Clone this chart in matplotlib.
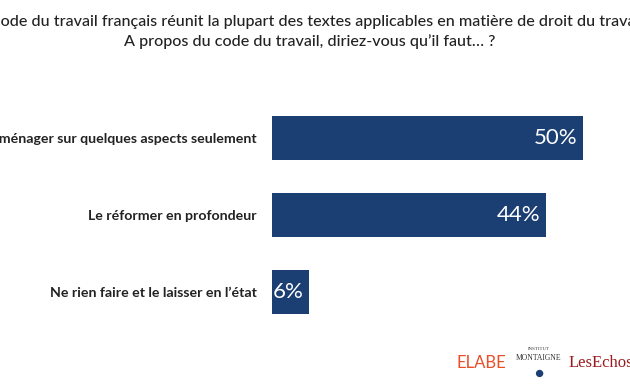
import matplotlib.pyplot as plt

categories = [
    "Aménager sur quelques aspects seulement",
    "Le réformer en profondeur",
    "Ne rien faire et le laisser en l’état",
]
values = [50, 44, 6]
value_labels = ["50%", "44%", "6%"]

title_1 = "Le code du travail français réunit la plupart des textes applicables en matière de droit du travail."
title_2 = "A propos du code du travail, diriez-vous qu’il faut… ?"

bar_color = "#1B3E73"
plt.rcParams["font.family"] = ["Lato", "DejaVu Sans"]

fig = plt.figure(figsize=(6.3, 3.9), dpi=100)
ax = fig.add_axes([272 / 630, 1 - 330.5 / 390, 358 / 630, 231 / 390])

positions = list(range(len(categories)))
ax.barh(positions, values, height=44 / 77, color=bar_color)
ax.set_xlim(0, 50 * 358 / 311)
ax.set_ylim(2.5, -0.5)
ax.set_yticks(positions)
ax.set_yticklabels(categories, fontsize=10.2, fontweight="bold", color="#222222")
ax.tick_params(axis="y", length=0, pad=11)
ax.set_xticks([])
for s in ax.spines.values():
    s.set_visible(False)

for p, v, lab in zip(positions, values, value_labels):
    ax.annotate(lab, (v, p), xytext=(-4, 0), textcoords="offset points",
                ha="right", va="center", color="white", fontsize=16,
                fontweight="normal")

fig.text(310 / 630, 1 - 22 / 390, title_1, ha="center", va="center",
         fontsize=11.6, fontweight="medium", color="#222222")
fig.text(310 / 630, 1 - 42 / 390, title_2, ha="center", va="center",
         fontsize=11.6, fontweight="medium", color="#222222")

# logos as text
fig.text(481 / 630, 1 - 363 / 390, "ELABE", ha="center", va="center",
         fontsize=12, color="#E8502A")
fig.text(539 / 630, 1 - 349 / 390, "INSTITUT", ha="center", va="center",
         fontsize=3.5, family="Liberation Serif", color="#333333")
fig.text(539 / 630, 1 - 358 / 390, "MONTAIGNE", ha="center", va="center",
         fontsize=5.5, family="Liberation Serif", color="#333333")
fig.text(539 / 630, 1 - 374 / 390, "●", ha="center", va="center",
         fontsize=11, color="#1B3E73")
fig.text(601 / 630, 1 - 363 / 390, "LesEchos", ha="center", va="center",
         fontsize=12, family="Liberation Serif", color="#9B1B1E")

fig.savefig("out.png", dpi=100)
